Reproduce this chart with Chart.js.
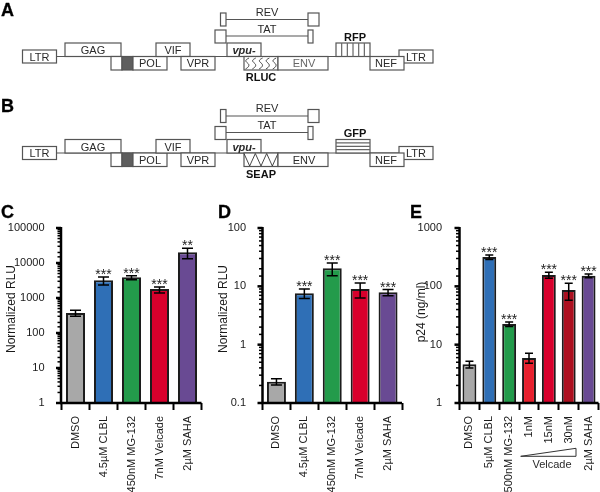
<!DOCTYPE html>
<html>
<head>
<meta charset="utf-8">
<title>Panels A-E</title>
<script src="https://cdn.jsdelivr.net/npm/chart.js@4/dist/chart.umd.min.js"></script>
<style>
    html, body { margin: 0; padding: 0; background: #fff; }
    #page { position: relative; width: 600px; height: 492px; overflow: hidden; font-family: "Liberation Sans", Arial, sans-serif; }
    #page canvas { position: absolute; }
    #page svg { position: absolute; left: 0; top: 0; pointer-events: none; }
    .letter { position: absolute; font-size: 18px; font-weight: bold; color: #000; line-height: 18px; -webkit-text-stroke: 0.3px #000; }
</style>
</head>
<body>
<div id="page">
    <canvas id="chartC"></canvas>
    <canvas id="chartD"></canvas>
    <canvas id="chartE"></canvas>
    <svg id="schematic" width="600" height="492"></svg>
    <div class="letter" style="left:1px;top:1px">A</div>
    <div class="letter" style="left:1px;top:97px">B</div>
    <div class="letter" style="left:1px;top:203px">C</div>
    <div class="letter" style="left:218px;top:203px">D</div>
    <div class="letter" style="left:410px;top:203px">E</div>
</div>
<script>
// --- DATA ---
const GRAY = '#a8a8a8', BLUE = '#2f6fb6', GREEN = '#239b4b', RED = '#d8002c', PURPLE = '#694a93';

const categoriesC = ['DMSO', '4.5µM CLBL', '450nM MG-132', '7nM Velcade', '2µM SAHA'];
const valuesC = [372, 3200, 3890, 1800, 20200];
const errLowC = [300, 2350, 3340, 1390, 13300];
const errHighC = [445, 3980, 4350, 2060, 26200];
const starsC = ['', '***', '***', '***', '**'];
const colorsC = [GRAY, BLUE, GREEN, RED, PURPLE];

const categoriesD = ['DMSO', '4.5µM CLBL', '450nM MG-132', '7nM Velcade', '2µM SAHA'];
const valuesD = [0.232, 7.6, 20.4, 9.0, 7.9];
const errLowD = [0.204, 6.2, 15.2, 6.3, 6.9];
const errHighD = [0.261, 9.0, 25.1, 11.4, 8.8];
const starsD = ['', '***', '***', '***', '***'];
const colorsD = [GRAY, BLUE, GREEN, RED, PURPLE];

const categoriesE = ['DMSO', '5µM CLBL', '500nM MG-132', '1nM', '15nM', '30nM', '2µM SAHA'];
const valuesE = [4.6, 318, 22.6, 5.9, 156, 86.5, 152];
const errLowE = [4.0, 287, 20.4, 4.8, 137, 58, 141];
const errHighE = [5.2, 344, 24.5, 7.1, 174, 112.6, 163];
const starsE = ['', '***', '***', '', '***', '***', '***'];
const colorsE = [GRAY, BLUE, GREEN, '#e8202e', RED, '#ad1020', PURPLE];

// --- PLUGINS ---
const isDecade = v => Math.abs(Math.log10(v) - Math.round(Math.log10(v))) < 1e-9;

// axis lines, log ticks and the y title
const axesPlugin = {
    id: 'axes',
    afterDraw(chart, args, opts) {
        const ctx = chart.ctx, y = chart.scales.y, x = chart.scales.x;
        const axisX = x.left - opts.gap;
        ctx.save();
        ctx.strokeStyle = '#000';
        ctx.lineWidth = 2.5;
        ctx.beginPath();
        ctx.moveTo(axisX, y.top - 1);
        ctx.lineTo(axisX, y.bottom + 1);
        ctx.moveTo(axisX - 1, y.bottom);
        ctx.lineTo(x.right, y.bottom);
        ctx.stroke();
        y.ticks.forEach((tick, i) => {
            const py = y.getPixelForTick(i);
            const major = isDecade(tick.value);
            ctx.lineWidth = major ? 2.5 : 1.5;
            ctx.beginPath();
            ctx.moveTo(axisX, py);
            ctx.lineTo(axisX - (major ? 5 : 3.5), py);
            ctx.stroke();
        });
        ctx.translate(opts.titleX, opts.titleY);
        ctx.rotate(-Math.PI / 2);
        ctx.fillStyle = '#1a1a1a';
        ctx.font = '12px "Liberation Sans"';
        ctx.textAlign = 'center';
        ctx.textBaseline = 'middle';
        ctx.fillText(opts.title, 0, 0);
        ctx.restore();
    }
};

const errorsPlugin = {
    id: 'errors',
    afterDatasetsDraw(chart, args, opts) {
        const ctx = chart.ctx, y = chart.scales.y;
        const bars = chart.getDatasetMeta(0).data;
        ctx.save();
        ctx.strokeStyle = '#000';
        ctx.lineWidth = 1.5;
        ctx.fillStyle = '#222';
        ctx.font = '14px "Liberation Sans"';
        ctx.textAlign = 'center';
        ctx.textBaseline = 'alphabetic';
        bars.forEach((bar, i) => {
            const top = y.getPixelForValue(opts.high[i]);
            const low = y.getPixelForValue(opts.low[i]);
            ctx.beginPath();
            ctx.moveTo(bar.x, top);
            ctx.lineTo(bar.x, low);
            ctx.moveTo(bar.x - opts.cap, top);
            ctx.lineTo(bar.x + opts.cap, top);
            ctx.moveTo(bar.x - opts.cap, low);
            ctx.lineTo(bar.x + opts.cap, low);
            ctx.stroke();
            if (opts.stars[i]) ctx.fillText(opts.stars[i], bar.x, top + 2);
        });
        ctx.restore();
    }
};

// --- CHARTS ---
function makeChart(id, p) {
    const canvas = document.getElementById(id);
    canvas.style.left = p.left + 'px';
    canvas.style.top = '200px';
    canvas.width = p.width;
    canvas.height = 292;
    canvas.style.width = p.width + 'px';
    canvas.style.height = '292px';
    return new Chart(canvas, {
        type: 'bar',
        data: {
            labels: p.labels,
            datasets: [{
                data: p.values,
                backgroundColor: p.colors,
                borderColor: '#1c1c1c',
                borderWidth: 2,
                barPercentage: p.barPct,
                categoryPercentage: 1
            }]
        },
        options: {
            responsive: false,
            animation: false,
            layout: { padding: { top: 28, right: p.width - p.right, left: 0, bottom: 0 } },
            plugins: {
                legend: { display: false },
                tooltip: { enabled: false },
                axes: { gap: p.gap, title: p.title, titleX: p.titleX, titleY: p.titleY },
                errors: { low: p.low, high: p.high, stars: p.stars, cap: p.cap }
            },
            scales: {
                x: {
                    grid: { drawOnChartArea: false, drawTicks: true, tickLength: 7, tickWidth: 2, tickColor: '#000' },
                    border: { display: false },
                    ticks: {
                        autoSkip: false, minRotation: 90, maxRotation: 90, padding: 6,
                        color: '#1a1a1a',
                        font: { family: 'Liberation Sans', size: 11 }
                    },
                    // rotated labels would otherwise pull the plot in from the right
                    afterFit: s => { s.height = 89; s.paddingLeft = 0; s.paddingRight = 0; }
                },
                y: {
                    type: 'logarithmic',
                    min: p.min,
                    max: p.max,
                    grid: { display: false },
                    border: { display: false },
                    ticks: {
                        autoSkip: false, padding: p.tickPad, color: '#1a1a1a',
                        font: { family: 'Liberation Sans', size: 11 },
                        callback: v => isDecade(v) ? String(v) : ''
                    },
                    afterFit: s => { s.width = p.plotLeft; }
                }
            }
        },
        plugins: [axesPlugin, errorsPlugin]
    });
}

window.onload = () => {
    makeChart('chartC', { left: 0, width: 205, plotLeft: 61.5, right: 201.5, gap: 0.5, tickPad: 9,
        labels: categoriesC, values: valuesC, low: errLowC, high: errHighC, stars: starsC, colors: colorsC,
        min: 1, max: 100000, title: 'Normalized RLU', titleX: 12, titleY: 109, barPct: 0.68, cap: 5.5 });
    makeChart('chartD', { left: 205, width: 200, plotLeft: 57.5, right: 197, gap: 0, tickPad: 8.5,
        labels: categoriesD, values: valuesD, low: errLowD, high: errHighD, stars: starsD, colors: colorsD,
        min: 0.1, max: 100, title: 'Normalized RLU', titleX: 19, titleY: 109, barPct: 0.68, cap: 5.5 });
    makeChart('chartE', { left: 400, width: 200, plotLeft: 59.5, right: 198.5, gap: 0, tickPad: 9.5,
        labels: categoriesE, values: valuesE, low: errLowE, high: errHighE, stars: starsE, colors: colorsE,
        min: 1, max: 1000, title: 'p24 (ng/ml)', titleX: 22, titleY: 112, barPct: 0.7, cap: 4 });
    drawSchematics();
};

// --- SCHEMATICS A / B ---
function drawSchematics() {
    const svg = document.getElementById('schematic');
    let out = '';
    const STROKE = '#555';
    const box = (x, y, w, h, fill) =>
        `<rect x="${x}" y="${y}" width="${w}" height="${h}" fill="${fill || '#fff'}" stroke="${STROKE}" stroke-width="1.2"/>`;
    const line = (x1, y1, x2, y2, c) =>
        `<line x1="${x1}" y1="${y1}" x2="${x2}" y2="${y2}" stroke="${c || STROKE}" stroke-width="1.2"/>`;
    const text = (s, x, y, style, color) =>
        `<text x="${x}" y="${y}" text-anchor="middle" font-family="Liberation Sans" font-size="11" fill="${color || '#2a2a2a'}" ${style || ''}>${s}</text>`;
    const BOLD = 'font-weight="bold"';

    function construct(dy, insert, insertLabel, marker, markerLabel, envColor) {
        // spliced messages
        out += line(226, 19.5 + dy, 308, 19.5 + dy) + box(220.5, 13 + dy, 5.5, 13) + box(308, 13 + dy, 11, 13);
        out += text('REV', 267, 15.5 + dy);
        out += line(226, 36 + dy, 308, 36 + dy) + box(215, 30 + dy, 11, 13) + box(308, 30 + dy, 5, 13);
        out += text('TAT', 267, 32.5 + dy);
        // backbone
        out += line(56, 56.5 + dy, 400, 56.5 + dy);
        out += box(22.5, 50 + dy, 34, 13) + text('LTR', 39.5, 60.5 + dy);
        out += box(65, 43 + dy, 56, 13.5) + text('GAG', 93, 54 + dy);
        out += box(111, 56.5 + dy, 11, 13.5) + box(122, 56.5 + dy, 11, 13.5, '#5e5e5e') + box(133, 56.5 + dy, 34, 13.5) + text('POL', 150, 67 + dy);
        out += box(156, 43 + dy, 34, 13.5) + text('VIF', 173, 54 + dy);
        out += box(181, 56.5 + dy, 34, 13.5) + text('VPR', 198, 67 + dy);
        out += box(227, 43 + dy, 34, 13.5) + text('vpu-', 244, 54 + dy, 'font-weight="bold" font-style="italic"');
        out += box(244, 56.5 + dy, 34, 13.5);
        const nIns = insert === 'squiggle' ? 5 : 3;
        const step = 34 / nIns;
        for (let i = 0; i < nIns; i++) {
            const sx = 244 + step * i;
            if (insert === 'squiggle') {
                out += `<path d="M${sx + 5} ${58 + dy} C${sx + 1} ${60 + dy} ${sx + 1} ${61 + dy} ${sx + 3.5} ${63 + dy} C${sx + 6} ${65 + dy} ${sx + 5} ${67 + dy} ${sx + 1.5} ${69 + dy}" fill="none" stroke="#333" stroke-width="0.9"/>`;
            } else {
                out += `<path d="M${sx} ${57 + dy} L${sx + step / 2} ${69.5 + dy} L${sx + step} ${57 + dy}" fill="none" stroke="#333" stroke-width="0.9"/>`;
            }
        }
        out += box(278, 56.5 + dy, 50, 13.5) + text('ENV', 304, 67 + dy, '', envColor);
        out += text(insertLabel, 261, 81 + dy, BOLD, '#111');
        out += box(336, 43 + dy, 34, 13.5);
        if (marker === 'vertical') {
            for (let i = 1; i < 6; i++) out += line(336 + i * 5.67, 43 + dy, 336 + i * 5.67, 56.5 + dy, '#666');
        } else {
            for (let i = 1; i < 4; i++) out += line(336, 43 + dy + i * 3.4, 370, 43 + dy + i * 3.4, '#666');
        }
        out += text(markerLabel, 355, 40.5 + dy, BOLD, '#111');
        // LTR first, NEF sits on top of its corner
        out += box(399, 50 + dy, 34, 13) + text('LTR', 416, 60.5 + dy);
        out += box(370, 56.5 + dy, 34, 13.5) + text('NEF', 386, 67 + dy);
    }
    construct(0, 'squiggle', 'RLUC', 'vertical', 'RFP', '#666');
    construct(96.5, 'zigzag', 'SEAP', 'horizontal', 'GFP', '#2a2a2a');

    // Velcade wedge under panel E
    out += `<path d="M520.7 456.3 L576 448.3 L576 456.3 Z" fill="#fff" stroke="#333" stroke-width="1"/>`;
    out += text('Velcade', 552, 468);
    svg.innerHTML = out;
}
</script>
</body>
</html>
